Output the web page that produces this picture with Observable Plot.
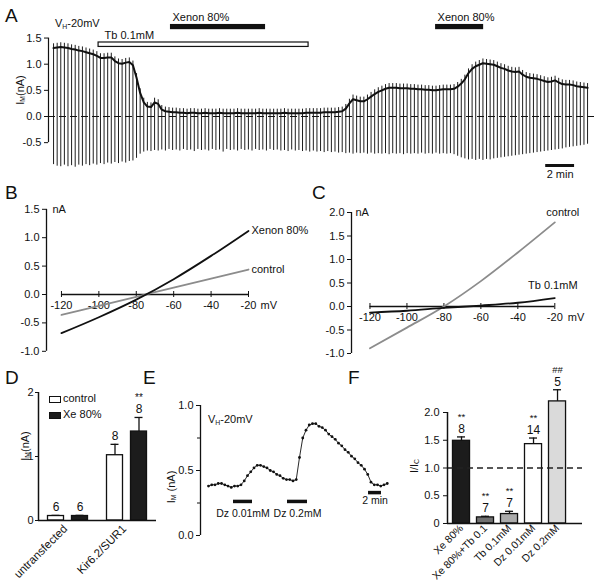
<!DOCTYPE html>
<html><head><meta charset="utf-8">
<script src="https://cdn.jsdelivr.net/npm/d3@7"></script>
<script src="https://cdn.jsdelivr.net/npm/@observablehq/plot@0.6"></script>
<style>
body{margin:0;background:#fff;}
#fig{position:relative;width:600px;height:586px;overflow:hidden;background:#fff;font-family:"Liberation Sans",Arial,sans-serif;color:#111;}
sub{font-size:0.62em;vertical-align:-0.28em;line-height:0;}
</style></head>
<body><div id="fig"></div>
<script>
// ---------- Panel A: holding current trace (nA), one sweep every 0.25 min ----------
const sweepMinutes = 0.25;
const traceA = [
 1.31,1.32,1.33,1.32,1.31,1.29,1.28,1.26,1.25,1.23,
 1.21,1.19,1.16,1.12,1.12,1.13,1.13,1.06,1.02,1.01,
 1.03,1.04,0.98,0.74,0.45,0.27,0.19,0.18,0.27,0.24,
 0.13,0.10,0.09,0.08,
 0.08,0.07,0.07,0.06,0.07,0.07,0.06,0.06,0.07,0.06,
 0.06,0.06,0.07,0.06,0.06,0.06,0.06,0.07,0.06,0.06,
 0.06,0.06,0.06,0.07,0.06,0.06,0.06,0.06,0.06,0.06,
 0.07,0.06,0.06,0.06,0.06,0.06,0.07,0.07,0.07,0.07,
 0.07,0.08,0.08,0.08,0.08,0.09,
 0.10,0.15,0.25,0.33,0.31,0.29,0.29,0.33,0.38,0.43,
 0.47,0.50,0.53,0.55,0.55,0.55,0.54,0.54,0.54,0.53,
 0.53,0.52,0.52,0.51,0.51,0.50,0.50,0.51,0.52,0.52,
 0.52,0.53,0.57,0.63,0.71,0.83,0.91,0.96,0.99,1.02,
 1.01,1.00,0.99,0.96,0.93,0.91,0.88,0.86,0.85,0.86,
 0.80,0.76,0.74,0.73,0.72,0.70,0.68,0.66,0.67,0.69,
 0.65,0.62,0.61,0.61,0.60,0.58,0.57,0.56,0.55];
const bottomA = [
 -0.92,-0.95,-0.96,-0.93,-0.96,-0.94,-0.97,-0.93,-0.95,-0.92,
 -0.94,-0.91,-0.93,-0.90,-0.92,-0.89,-0.91,-0.88,-0.90,-0.87,
 -0.89,-0.86,-0.85,-0.80,-0.72,-0.68,-0.66,-0.67,-0.65,-0.66,
 -0.64,-0.66,-0.63,-0.65,
 -0.64,-0.66,-0.63,-0.65,-0.64,-0.67,-0.63,-0.65,-0.64,-0.66,
 -0.63,-0.65,-0.64,-0.68,-0.63,-0.65,-0.64,-0.66,-0.63,-0.65,
 -0.64,-0.66,-0.63,-0.65,-0.64,-0.66,-0.63,-0.65,-0.64,-0.66,
 -0.65,-0.67,-0.64,-0.66,-0.65,-0.67,-0.66,-0.68,-0.66,-0.68,
 -0.67,-0.69,-0.67,-0.69,-0.68,-0.70,
 -0.69,-0.71,-0.70,-0.72,-0.70,-0.71,-0.70,-0.72,-0.70,-0.72,
 -0.71,-0.72,-0.71,-0.73,-0.71,-0.72,-0.71,-0.73,-0.71,-0.72,
 -0.71,-0.72,-0.70,-0.72,-0.71,-0.72,-0.70,-0.72,-0.71,-0.72,
 -0.71,-0.73,-0.76,-0.79,-0.81,-0.83,-0.82,-0.84,-0.82,-0.84,
 -0.82,-0.83,-0.81,-0.80,-0.79,-0.78,-0.77,-0.76,-0.75,-0.74,
 -0.73,-0.72,-0.71,-0.70,-0.69,-0.68,-0.67,-0.66,-0.65,-0.64,
 -0.63,-0.62,-0.60,-0.59,-0.58,-0.57,-0.56,-0.55,-0.53];
const sweepOvershoot = 0.08;
const ticksA = [-0.5, 0, 0.5, 1, 1.5];
const drugNameA = ["Tb 0.1mM", "Xenon 80%", "Xenon 80%"];
const drugStartA = [3.12, 8.10, 26.47];
const drugEndA = [17.67, 14.69, 29.80];
const scaleBarStartA = 34.1, scaleBarLenA = 2;

// ---------- Panel B: I-V (mV, nA) ----------
const mvB = [-120, -100, -80, -60, -40, -20];
const ivControlB = [-0.36, -0.20, -0.04, 0.12, 0.28, 0.44];
const ivXenonB = [-0.68, -0.40, -0.09, 0.27, 0.68, 1.12];
const ticksB = [-1, -0.5, 0, 0.5, 1, 1.5];

// ---------- Panel C ----------
const mvC = [-120, -100, -80, -60, -40, -20];
const ivControlC = [-0.89, -0.45, 0.0, 0.54, 1.15, 1.79];
const ivTbC = [-0.13, -0.09, -0.03, 0.02, 0.08, 0.18];
const ticksC = [-1, -0.5, 0, 0.5, 1, 1.5, 2];

// ---------- Panel D ----------
const groupsD = ["untransfected", "Kir6.2/SUR1"];
const groupD = ["untransfected", "untransfected", "Kir6.2/SUR1", "Kir6.2/SUR1"];
const condD = ["control", "Xe 80%", "control", "Xe 80%"];
const valueD = [0.07, 0.07, 1.02, 1.39];
const errD = [0.01, 0.01, 0.17, 0.22];
const nD = ["6", "6", "8", "8"];
const sigD = ["", "", "", "**"];
const ticksD = [0, 1, 2];

// ---------- Panel E: diazoxide trace, one point every 0.5 min ----------
const sampleMinutesE = 0.5;
const traceE = [
 0.38,0.39,0.39,0.40,0.40,0.39,0.38,0.37,0.38,0.38,
 0.39,0.42,0.46,0.49,0.52,0.54,0.54,0.53,0.52,0.50,
 0.49,0.47,0.46,0.44,0.43,0.43,0.42,0.43,0.60,0.75,
 0.81,0.85,0.86,0.86,0.84,0.83,0.81,0.78,0.76,0.74,
 0.71,0.69,0.66,0.64,0.61,0.59,0.56,0.54,0.51,0.47,
 0.41,0.39,0.39,0.38,0.39,0.40];
const drugNameE = ["Dz 0.01mM", "Dz 0.2mM"];
const drugStartE = [3.85, 12.15];
const drugEndE = [6.77, 15.23];
const scaleBarStartE = 24.62, scaleBarLenE = 2;

// ---------- Panel F ----------
const labelsF = ["Xe 80%", "Xe 80%+Tb 0.1", "Tb 0.1mM", "Dz 0.01mM", "Dz 0.2mM"];
const valueF = [1.49, 0.11, 0.17, 1.43, 2.20];
const errF = [0.07, 0.02, 0.05, 0.11, 0.21];
const nF = ["8", "7", "7", "14", "5"];
const sigF = ["**", "**", "**", "**", "##"];
const ticksF = [0, 0.5, 1, 1.5, 2];

// ---------------------------------------------------------------
const fillF = ["#1c1c1c", "#707070", "#ababab", "#ffffff", "#dadada"];
const style = {background: "transparent", fontFamily: '"Liberation Sans", Arial, sans-serif', fontSize: "11px", color: "#111", overflow: "visible"};
const fmt1 = d => d.toFixed(1);
const fig = document.getElementById("fig");
function place(el, left, top) {
  el.style.position = "absolute"; el.style.left = left + "px"; el.style.top = top + "px";
  fig.appendChild(el);
}
function html(content, left, top, size, rotate) {
  const d = document.createElement("div");
  d.innerHTML = content;
  d.style.fontSize = size + "px"; d.style.lineHeight = "1"; d.style.whiteSpace = "nowrap";
  if (rotate) d.style.transform = "translate(-50%,-50%) rotate(-90deg)";
  place(d, left, top);
  return d;
}

// Panel A
const sweeps = traceA.map((v, i) => ({t: i * sweepMinutes, v, lo: bottomA[i], hi: v + sweepOvershoot}));
const drugsA = drugNameA.map((name, i) => ({name, start: drugStartA[i], end: drugEndA[i]}));
const tbA = drugsA.filter(d => d.name.startsWith("Tb"));
const xeA = drugsA.filter(d => d.name.startsWith("Xenon"));
const scaleA = [{start: scaleBarStartA, end: scaleBarStartA + scaleBarLenA, name: scaleBarLenA + " min"}];
const xA0 = -0.35, xA1 = 37.55;
place(Plot.plot({
  width: 600, height: 190, marginLeft: 48, marginRight: 5, marginTop: 11.4, marginBottom: 21.7,
  x: {domain: [xA0, xA1], axis: null}, y: {domain: [-1, 2], axis: null}, style,
  marks: [
    Plot.ruleX(sweeps, {x: "t", y1: "lo", y2: "hi", stroke: "#1e1e1e", strokeWidth: 1}),
    Plot.ruleY([0], {stroke: "#111", strokeWidth: 1.1, strokeDasharray: "7,4"}),
    Plot.line(sweeps, {x: "t", y: "v", stroke: "#111", strokeWidth: 2}),
    Plot.ruleX([xA0], {y1: -0.5, y2: 1.5, stroke: "#111", strokeWidth: 1.2}),
    Plot.axisY({ticks: ticksA, tickSize: 4, tickPadding: 3, tickFormat: fmt1, label: null}),
    Plot.rect(tbA, {x1: "start", x2: "end", y1: 1.33, y2: 1.415, fill: "white", stroke: "#111", strokeWidth: 1.2}),
    Plot.rect(xeA, {x1: "start", x2: "end", y1: 1.66, y2: 1.76, fill: "#111"}),
    Plot.text(xeA, {x: "start", y: 1.9, dx: 2, text: "name", textAnchor: "start"}),
    Plot.text(tbA, {x: "start", y: 1.55, dx: 6, text: "name", textAnchor: "start"}),
    Plot.ruleY(scaleA, {x1: "start", x2: "end", y: -0.937, stroke: "#111", strokeWidth: 3}),
    Plot.text(scaleA, {x: d => (d.start + d.end) / 2, y: -1.1, text: "name"})
  ]
}), 0, 0);

// Panel B
const ivB = mvB.flatMap((mv, i) => [{mv, I: ivControlB[i], s: "control"}, {mv, I: ivXenonB[i], s: "Xenon 80%"}]);
place(Plot.plot({
  width: 300, height: 200, marginLeft: 46, marginRight: 52, marginTop: 18.8, marginBottom: 39.2,
  x: {domain: [-128, -20], axis: null}, y: {domain: [-1, 1.5], axis: null}, style,
  marks: [
    Plot.ruleX([-128], {y1: -1, y2: 1.5, stroke: "#111", strokeWidth: 1.3}),
    Plot.axisY({ticks: ticksB, tickSize: 4, tickPadding: 3, tickFormat: fmt1, label: null}),
    Plot.ruleY([0], {x1: -120, x2: -20, stroke: "#111", strokeWidth: 1.5}),
    Plot.ruleX(mvB, {x: d => d, y1: 0, y2: 0, insetTop: -3, insetBottom: -3, stroke: "#111"}),
    Plot.text(mvB, {x: d => d, y: 0, dy: 11, text: d => String(d)}),
    Plot.text(["mV"], {x: -20, y: 0, dx: 12, dy: 11, textAnchor: "start"}),
    Plot.text(["nA"], {x: -128, y: 1.5, dx: 6, textAnchor: "start"}),
    Plot.line(ivB.filter(d => d.s === "control"), {x: "mv", y: "I", stroke: "#8c8c8c", strokeWidth: 1.8, curve: "monotone-x"}),
    Plot.line(ivB.filter(d => d.s !== "control"), {x: "mv", y: "I", stroke: "#111", strokeWidth: 1.8, curve: "monotone-x"}),
    Plot.text(ivB.filter(d => d.mv === -20), {x: "mv", y: "I", text: "s", dx: 3, textAnchor: "start"})
  ]
}), 0, 190);

// Panel C
const ivC = mvC.flatMap((mv, i) => [{mv, I: ivControlC[i], s: "control"}, {mv, I: ivTbC[i], s: "Tb 0.1mM"}]);
place(Plot.plot({
  width: 300, height: 200, marginLeft: 51, marginRight: 45.7, marginTop: 22, marginBottom: 37,
  x: {domain: [-130, -20], axis: null}, y: {domain: [-1, 2], axis: null}, style,
  marks: [
    Plot.ruleX([-130], {y1: -1, y2: 2, stroke: "#111", strokeWidth: 1.3}),
    Plot.axisY({ticks: ticksC, tickSize: 4, tickPadding: 3, tickFormat: fmt1, label: null}),
    Plot.ruleY([0], {x1: -120, x2: -20, stroke: "#111", strokeWidth: 1.5}),
    Plot.ruleX(mvC, {x: d => d, y1: 0, y2: 0, insetTop: -3, insetBottom: -3, stroke: "#111"}),
    Plot.text(mvC, {x: d => d, y: 0, dy: 11, text: d => String(d)}),
    Plot.text(["mV"], {x: -20, y: 0, dx: 13, dy: 11, textAnchor: "start"}),
    Plot.text(["nA"], {x: -130, y: 2, dx: 4, textAnchor: "start"}),
    Plot.line(ivC.filter(d => d.s === "control"), {x: "mv", y: "I", stroke: "#8c8c8c", strokeWidth: 1.8, curve: "monotone-x"}),
    Plot.line(ivC.filter(d => d.s !== "control"), {x: "mv", y: "I", stroke: "#111", strokeWidth: 1.8, curve: "monotone-x"}),
    Plot.text(ivC.filter(d => d.mv === -20 && d.s === "control"), {x: "mv", y: "I", text: "s", dx: 8, dy: -10}),
    Plot.text(ivC.filter(d => d.mv === -20 && d.s !== "control"), {x: "mv", y: "I", text: "s", dx: -2, dy: -13})
  ]
}), 300, 190);

// Panel D
const dataD = groupD.map((g, i) => ({g, cond: condD[i], value: valueD[i], top: valueD[i] + errD[i], n: nD[i], sig: sigD[i]}));
const dimD = {width: 160, height: 206, marginTop: 12, marginBottom: 66};
place(Plot.plot({
  ...dimD, marginLeft: 38, marginRight: 4,
  fx: {domain: groupsD, paddingInner: 0, paddingOuter: 0, round: false, axis: null, label: null},
  x: {domain: ["control", "Xe 80%"], paddingInner: 1 / 3, paddingOuter: 0.396, round: false, axis: null, label: null},
  y: {domain: [0, 2], axis: null}, style,
  marks: [
    Plot.barY(dataD, {fx: "g", x: "cond", y: "value", fill: d => d.cond === "control" ? "white" : "#1c1c1c", stroke: "#111", strokeWidth: 1.3}),
    Plot.ruleX(dataD, {fx: "g", x: "cond", y1: "value", y2: "top", stroke: "#111", strokeWidth: 1.3}),
    Plot.tickY(dataD, {fx: "g", x: "cond", y: "top", insetLeft: 4, insetRight: 4, stroke: "#111", strokeWidth: 1.3}),
    Plot.ruleY([0], {stroke: "#111", strokeWidth: 1.5}),
    Plot.text(dataD, {fx: "g", x: "cond", y: "top", dy: -8, text: "n", fontSize: 12}),
    Plot.text(dataD, {fx: "g", x: "cond", y: "top", dy: -20, text: "sig", fontSize: 10}),
    Plot.text(groupsD, {fx: d => d, text: d => d, frameAnchor: "bottom", rotate: -45, textAnchor: "end", dy: 9, fontSize: 11.5})
  ]
}), 0, 380);
place(Plot.plot({
  ...dimD, marginLeft: 38, marginRight: 4,
  x: {domain: [0, 1], axis: null}, y: {domain: [0, 2], axis: null}, style,
  marks: [
    Plot.ruleX([0], {y1: 0, y2: 2, stroke: "#111", strokeWidth: 1.5}),
    Plot.axisY({ticks: ticksD, tickSize: 3, tickPadding: 2, tickFormat: d => String(d), label: null})
  ]
}), 0, 380);

// Panel E
const ptsE = traceE.map((v, i) => ({t: i * sampleMinutesE, v}));
const drugsE = drugNameE.map((name, i) => ({name, start: drugStartE[i], end: drugEndE[i]}));
const scaleE = [{start: scaleBarStartE, end: scaleBarStartE + scaleBarLenE, name: scaleBarLenE + " min"}];
const xE0 = -1.23;
place(Plot.plot({
  width: 240, height: 206, marginLeft: 40, marginRight: 3.5, marginTop: 25, marginBottom: 51,
  x: {domain: [xE0, 29], axis: null}, y: {domain: [0, 1], axis: null}, style,
  marks: [
    Plot.ruleX([xE0], {y1: 0, y2: 1, stroke: "#111", strokeWidth: 1.3}),
    Plot.axisY({ticks: [0, 0.5, 1], tickSize: 4, tickPadding: 3, tickFormat: fmt1, label: null}),
    Plot.axisY({ticks: [0.25, 0.75], tickSize: 3, tickFormat: () => "", label: null}),
    Plot.line(ptsE, {x: "t", y: "v", stroke: "#111", strokeWidth: 0.9}),
    Plot.dot(ptsE, {x: "t", y: "v", r: 1.4, fill: "#111", stroke: "none"}),
    Plot.ruleY(drugsE, {x1: "start", x2: "end", y: 0.262, stroke: "#111", strokeWidth: 3.5}),
    Plot.text(drugsE, {x: d => (d.start + d.end) / 2, y: 0.168, text: "name", fontSize: 10.5}),
    Plot.ruleY(scaleE, {x1: "start", x2: "end", y: 0.33, stroke: "#111", strokeWidth: 3.5}),
    Plot.text(scaleE, {x: d => (d.start + d.end) / 2, y: 0.268, text: "name", fontSize: 10.5})
  ]
}), 160, 380);

// Panel F
const dataF = labelsF.map((label, i) => ({label, value: valueF[i], top: valueF[i] + errF[i], n: nF[i], sig: sigF[i], fill: fillF[i]}));
const dimF = {width: 200, height: 226, marginLeft: 47, marginRight: 18, marginTop: 52, marginBottom: 63};
place(Plot.plot({
  ...dimF,
  x: {domain: labelsF, paddingInner: 0.29, paddingOuter: 0.457, align: 0.25, round: false, axis: null, label: null},
  y: {domain: [0, 2], axis: null}, style,
  marks: [
    Plot.barY(dataF, {x: "label", y: "value", fill: "fill", stroke: "#111", strokeWidth: 1.3}),
    Plot.ruleX(dataF, {x: "label", y1: "value", y2: "top", stroke: "#111", strokeWidth: 1.3}),
    Plot.tickY(dataF, {x: "label", y: "top", insetLeft: 4.5, insetRight: 4.5, stroke: "#111", strokeWidth: 1.3}),
    Plot.ruleY([0], {stroke: "#111", strokeWidth: 1.5}),
    Plot.ruleY([1], {stroke: "#222", strokeWidth: 1.5, strokeDasharray: "6,4"}),
    Plot.text(dataF, {x: "label", y: "top", dy: -8, text: "n", fontSize: 12}),
    Plot.text(dataF, {x: "label", y: "top", dy: -20, text: "sig", fontSize: 9.5}),
    Plot.axisX({tickRotate: -45, tickSize: 0, tickPadding: 3, label: null, fontSize: 10.5})
  ]
}), 400, 360);
place(Plot.plot({
  ...dimF,
  x: {domain: [0, 1], axis: null}, y: {domain: [0, 2], axis: null}, style,
  marks: [
    Plot.ruleX([0], {y1: 0, y2: 2, stroke: "#111", strokeWidth: 1.5}),
    Plot.axisY({ticks: ticksF, tickSize: 4, tickPadding: 4, tickFormat: d => d === 0 ? "0" : d.toFixed(1), label: null})
  ]
}), 400, 360);

// Panel letters and HTML text (subscripts)
[["A", 5, 5.5], ["B", 5, 182.5], ["C", 312, 182.5], ["D", 5, 367.5], ["E", 143, 367.5], ["F", 348, 367.5]]
  .forEach(([t, x, y]) => html(t, x, y, 19));
html("I<sub>M</sub>(nA)", 20, 90, 11, true);
html("I<sub>M</sub>(nA)", 25, 446, 11, true);
html("I<sub>M</sub> (nA)", 171, 487, 11, true);
html("I/I<sub>C</sub>", 414, 466, 11, true);
html("V<sub>H</sub>-20mV", 55, 17.5, 11);
html("V<sub>H</sub>-20mV", 208, 414, 11);
// Legend of D
const legD = [["control", "white"], ["Xe 80%", "#1c1c1c"]];
legD.forEach(([name, fill], i) => {
  const sw = document.createElement("div");
  sw.style.cssText = `width:10px;height:5px;border:1px solid #111;background:${fill};box-sizing:content-box`;
  place(sw, 49, 395.5 + i * 16);
  html(name, 63, 393 + i * 16, 11);
});
</script></body></html>
